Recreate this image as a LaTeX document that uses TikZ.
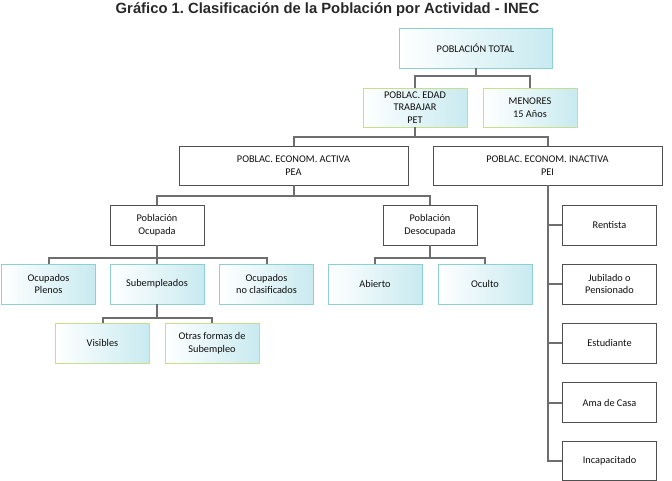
\documentclass[tikz,border=0pt]{standalone}
\usepackage{fontspec}
\setmainfont{Carlito}
\newfontfamily\titlefont{Liberation Sans}
\usepackage{xcolor}
\usetikzlibrary{positioning}

\definecolor{linegray}{RGB}{110,110,110}
\definecolor{boxgray}{RGB}{80,80,80}
\definecolor{tealline}{RGB}{140,208,210}
\definecolor{tealshade}{RGB}{200,234,240}
\definecolor{greenline}{RGB}{200,222,140}
\definecolor{titlegray}{RGB}{40,40,40}
\definecolor{textgray}{RGB}{15,15,15}

\begin{document}
\begin{tikzpicture}[x=1pt,y=-1pt,
    font=\fontsize{10.3}{12.5}\selectfont,
    whitebox/.style={draw=boxgray,line width=0.9pt,fill=white,align=center,
      minimum width=94pt,minimum height=40pt,inner sep=1pt,text=textgray},
    tealbox/.style={whitebox,draw=tealline,left color=white,right color=tealshade},
    greenbox/.style={whitebox,draw=greenline,left color=white,right color=tealshade},
    conn/.style={draw=linegray,line width=2pt}]
  \useasboundingbox (0,0) rectangle (672,480);
  \node[font=\titlefont\bfseries\fontsize{14.8}{16}\selectfont,text=titlegray]
    (title) at (327.5,10) {Gráfico 1.\ Clasificación de la Población por Actividad - INEC};
  % primer nivel
  \node[tealbox,minimum width=153pt] (total) at (475.5,48) {POBLACIÓN TOTAL};
  \node[greenbox,minimum width=104pt,minimum height=39pt] (pet) at (415,107.5) {POBLAC. EDAD\\TRABAJAR\\PET};
  \node[greenbox,minimum height=39pt] (menores) at (530,107.5) {MENORES\\15 Años};
  \node[whitebox,minimum width=229pt,minimum height=39pt] (pea) at (293.5,165.5) {POBLAC. ECONOM. ACTIVA\\PEA};
  \node[whitebox,minimum width=229pt,minimum height=39pt] (pei) at (547.5,165.5) {POBLAC. ECONOM. INACTIVA\\PEI};
  % PEA
  \node[whitebox] (ocupada) at (157,225) {Población\\Ocupada};
  \node[whitebox] (desocupada) at (430,225) {Población\\Desocupada};
  \node[tealbox] (plenos) at (48.5,284) {Ocupados\\Plenos};
  \node[tealbox] (subemp) at (157,284) {Subempleados};
  \node[tealbox] (noclasif) at (266.5,284) {Ocupados\\no clasificados};
  \node[tealbox] (abierto) at (375,284) {Abierto};
  \node[tealbox] (oculto) at (485,284) {Oculto};
  \node[greenbox] (visibles) at (102.5,343) {Visibles};
  \node[greenbox] (otras) at (212,343) {Otras formas de\\Subempleo};
  % PEI
  \node[whitebox] (rentista) at (609.5,225) {Rentista};
  \node[whitebox] (jubilado) at (609.5,284) {Jubilado o\\Pensionado};
  \node[whitebox] (estudiante) at (609.5,343) {Estudiante};
  \node[whitebox] (amacasa) at (609.5,402.5) {Ama de Casa};
  \node[whitebox,minimum height=39pt] (incapac) at (609.5,460.5) {Incapacitado};
  % conectores
  \draw[conn] (total.south) -- ++(0,8) -| (pet.north);
  \draw[conn] (total.south) -- ++(0,8) -| (menores.north);
  \draw[conn] (pet.south) -- ++(0,10) -| (pea.north);
  \draw[conn] (pet.south) -- ++(0,10) -| (pei.north);
  \draw[conn] (pea.south) -- ++(0,10.5) -| (ocupada.north);
  \draw[conn] (pea.south) -- ++(0,10.5) -| (desocupada.north);
  \draw[conn] (ocupada.south) -- ++(0,13) -| (plenos.north);
  \draw[conn] (ocupada.south) -- ++(0,13) -| (subemp.north);
  \draw[conn] (ocupada.south) -- ++(0,13) -| (noclasif.north);
  \draw[conn] (desocupada.south) -- ++(0,13) -| (abierto.north);
  \draw[conn] (desocupada.south) -- ++(0,13) -| (oculto.north);
  \draw[conn] (subemp.south) -- ++(0,14) -| (visibles.north);
  \draw[conn] (subemp.south) -- ++(0,14) -| (otras.north);
  \draw[conn] (pei.south) |- (rentista.west);
  \draw[conn] (pei.south) |- (jubilado.west);
  \draw[conn] (pei.south) |- (estudiante.west);
  \draw[conn] (pei.south) |- (amacasa.west);
  \draw[conn] (pei.south) |- (incapac.west);
\end{tikzpicture}
\end{document}
